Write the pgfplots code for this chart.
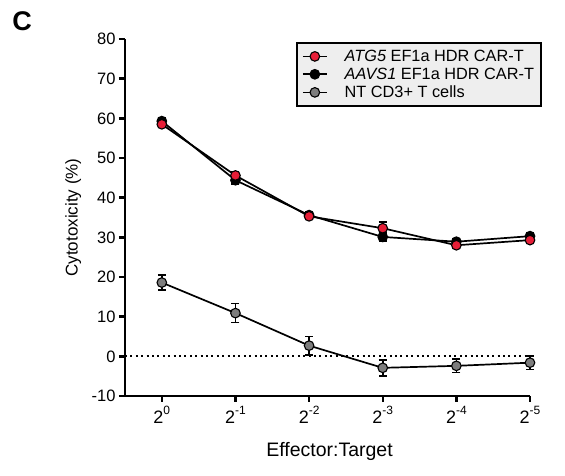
\documentclass[border=0pt]{standalone}
\usepackage{pgfplots}
\pgfplotsset{compat=1.18}
\usepackage{fontspec}
\setmainfont{Liberation Sans}
\definecolor{carred}{RGB}{230,30,55}
\definecolor{ntgray}{RGB}{125,125,125}
\definecolor{legbg}{RGB}{238,238,238}
\newcommand{\tl}[1]{2\raisebox{0.5em}{\fontsize{12}{12}\selectfont #1}}
\begin{document}
\begin{tikzpicture}
\path[use as bounding box] (0,0) rectangle (565pt,476pt);
\node[font=\bfseries\fontsize{27}{30}\selectfont] at (22pt,455pt) {C};
\begin{axis}[
  at={(125pt,80pt)}, anchor=south west,
  scale only axis, width=405pt, height=357pt,
  xmin=-0.5, xmax=5, ymin=-10, ymax=80,
  axis lines*=left,
  axis line style={line width=2.6pt},
  every tick/.style={black, line width=2.4pt},
  tick align=outside,
  major tick length=6pt,
  xtick={0,1,2,3,4,5},
  xticklabels={\tl{0},\tl{-1},\tl{-2},\tl{-3},\tl{-4},\tl{-5}},
  ytick={-10,0,...,80},
  /pgf/number format/assume math mode=true,
  yticklabel style={font=\fontsize{16.5}{18}\selectfont},
  xticklabel style={font=\fontsize{18}{20}\selectfont, yshift=-1pt},
  xlabel={Effector:Target},
  xlabel style={font=\fontsize{19.5}{22}\selectfont, at={(axis description cs:0.5,0)}, anchor=base, yshift=-60.5pt, xshift=2pt},
  legend style={at={(rel axis cs:0.422,0.992)}, anchor=north west,
    draw=black, line width=2.2pt, fill=legbg,
    font=\fontsize{16.3}{18}\selectfont,
    row sep=1pt, inner xsep=5pt, inner ysep=5pt},
  legend cell align=left,
  reverse legend,
  legend image code/.code={\draw[line width=1.7pt, mark repeat=2, mark phase=2] plot coordinates {(3pt,0pt)(15pt,0pt)(27pt,0pt)};},
  clip=false,
]
\node[rotate=90, anchor=center, font=\fontsize{17}{20}\selectfont] at (axis description cs:-0.128,0.5) {Cytotoxicity (\%)};
\addplot[dash pattern=on 2pt off 3.4pt, line width=2pt, forget plot] coordinates {(-0.5,0) (5,0)};
\addplot[black, line width=1.7pt, mark=*, mark size=4.8pt,
  mark options={fill=ntgray, draw=black, line width=1.1pt},
  error bars/.cd, y dir=both, y explicit,
  error bar style={line width=1.6pt, black},
  error mark options={rotate=90, mark size=4pt, line width=1.6pt}]
  coordinates {
  (0,18.6) +- (0,1.9)
  (1,10.9) +- (0,2.4)
  (2,2.7) +- (0,2.3)
  (3,-2.9) +- (0,2.0)
  (4,-2.4) +- (0,1.7)
  (5,-1.6) +- (0,1.7)
  };
\addlegendentry{\hspace{15pt}NT CD3+ T cells}
\addplot[black, line width=1.7pt, mark=*, mark size=4.8pt,
  mark options={fill=black, draw=black, line width=1.1pt},
  error bars/.cd, y dir=both, y explicit,
  error bar style={line width=1.6pt, black},
  error mark options={rotate=90, mark size=4pt, line width=1.6pt}]
  coordinates {
  (0,59.3) +- (0,0.8)
  (1,44.4) +- (0,0.9)
  (2,35.6) +- (0,0.8)
  (3,30.1) +- (0,1.0)
  (4,28.9) +- (0,0.8)
  (5,30.3) +- (0,0.8)
  };
\addlegendentry{\hspace{15pt}\textit{AAVS1} EF1a HDR CAR-T\hspace{29pt}}
\addplot[black, line width=1.7pt, mark=*, mark size=4.8pt,
  mark options={fill=carred, draw=black, line width=1.1pt},
  error bars/.cd, y dir=both, y explicit,
  error bar style={line width=1.6pt, black},
  error mark options={rotate=90, mark size=4pt, line width=1.6pt}]
  coordinates {
  (0,58.5) +- (0,0.8)
  (1,45.6) +- (0,0.9)
  (2,35.3) +- (0,0.8)
  (3,32.3) +- (0,1.6)
  (4,28.0) +- (0,0.8)
  (5,29.3) +- (0,0.8)
  };
\addlegendentry{\hspace{15pt}\textit{ATG5} EF1a HDR CAR-T}
\end{axis}
\end{tikzpicture}
\end{document}
